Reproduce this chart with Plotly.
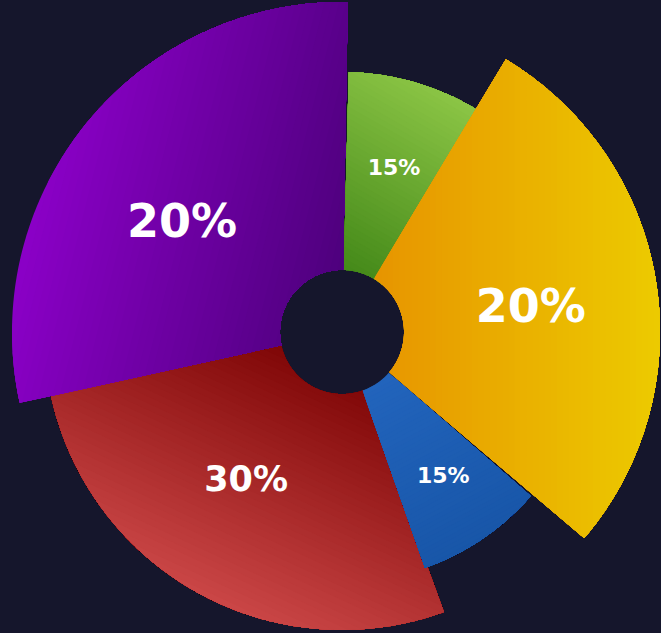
import numpy as np
import plotly.graph_objects as go

# ---------------- data ----------------
shares = [15, 20, 15, 30, 20]                       # percentage shown on each sector
angle_start = [1.5, 31.0, 131.0, 160.0, 257.6]      # degrees, clockwise from 12 o'clock
angle_end = [40.0, 130.4, 160.6, 258.0, 361.0]
outer_radius = [260, 318, 250, 298, 330]
inner_radius = 62

# ---------------- style ----------------
BG = "#15162c"
FIG_W, FIG_H = 661, 633
CX, CY = 342, 332                                   # centre of the rose in pixels

# linear gradient per sector: start point, start colour, end point, end colour
gradients = [
    ((8, 32), "#3c8214", (128, 242), "#90c948"),
    ((30, 0), "#e79400", (315, 0), "#ecca00"),
    ((38, -48), "#2264bc", (128, -218), "#1856a8"),
    ((0, -30), "#7c0404", (-120, -290), "#cf4a4a"),
    ((-320, 60), "#8a00c6", (0, -20), "#4a0078"),
]
draw_order = [3, 0, 1, 2, 4]

label_angle = [17.7, 83.4, 145.1, 212.6, 303.6]
label_radius = [171, 190, 177, 178, 192]
label_size = [22, 46, 22, 35, 46]

LEVELS = 48
ARC_STEP = 0.5


def hex_rgb(h):
    h = h.lstrip("#")
    return np.array([int(h[k:k + 2], 16) for k in (0, 2, 4)], dtype=float)


def mix(c0, c1, t):
    c = hex_rgb(c0) * (1 - t) + hex_rgb(c1) * t
    return "rgb(%d,%d,%d)" % tuple(np.round(c).astype(int))


def sector_polygon(a0, a1, r0, r1):
    n = max(2, int(np.ceil((a1 - a0) / ARC_STEP)) + 1)
    th = np.radians(np.linspace(a0, a1, n))
    outer = np.column_stack([r1 * np.sin(th), r1 * np.cos(th)])
    inner = np.column_stack([r0 * np.sin(th[::-1]), r0 * np.cos(th[::-1])])
    return np.vstack([outer, inner])


def clip_half_plane(poly, f):
    """Keep the part of poly where f(point) >= 0 (Sutherland-Hodgman)."""
    out = []
    n = len(poly)
    vals = [f(p) for p in poly]
    for j in range(n):
        p, q = poly[j], poly[(j + 1) % n]
        fp, fq = vals[j], vals[(j + 1) % n]
        if fp >= 0:
            out.append(p)
        if (fp >= 0) != (fq >= 0):
            s = fp / (fp - fq)
            out.append(p + s * (q - p))
    return np.array(out)


fig = go.Figure()

for i in draw_order:
    poly = sector_polygon(angle_start[i], angle_end[i], inner_radius, outer_radius[i])
    p0, c0, p1, c1 = gradients[i]
    p0 = np.array(p0, dtype=float)
    d = np.subtract(p1, p0).astype(float)
    dd = float(d @ d)

    # stacked layers: each one covers the part of the sector beyond a gradient step
    for k in range(LEVELS):
        if k == 0:
            piece = poly
        else:
            cut = (k - 0.5) / (LEVELS - 1)
            piece = clip_half_plane(poly, lambda p: ((p - p0) @ d) / dd - cut)
        if len(piece) < 3:
            break
        col = mix(c0, c1, k / (LEVELS - 1))
        xs = list(piece[:, 0]) + [piece[0, 0]]
        ys = list(piece[:, 1]) + [piece[0, 1]]
        fig.add_trace(go.Scatter(
            x=xs, y=ys, mode="none", fill="toself", fillcolor=col,
            hoverinfo="skip", showlegend=False,
        ))

for i in range(len(shares)):
    th = np.radians(label_angle[i])
    fig.add_trace(go.Scatter(
        x=[label_radius[i] * np.sin(th)], y=[label_radius[i] * np.cos(th)],
        mode="text", text=[f"{shares[i]}%"], textposition="middle center",
        textfont=dict(color="white", size=label_size[i], family="DejaVu Sans", weight="bold"),
        hoverinfo="skip", showlegend=False,
    ))

fig.update_layout(
    width=FIG_W, height=FIG_H,
    margin=dict(l=0, r=0, t=0, b=0),
    paper_bgcolor=BG, plot_bgcolor=BG,
    xaxis=dict(range=[-CX, FIG_W - CX], visible=False, fixedrange=True),
    yaxis=dict(range=[-(FIG_H - CY), CY], visible=False, fixedrange=True),
    hovermode=False,
)

fig.write_html("out.html")
